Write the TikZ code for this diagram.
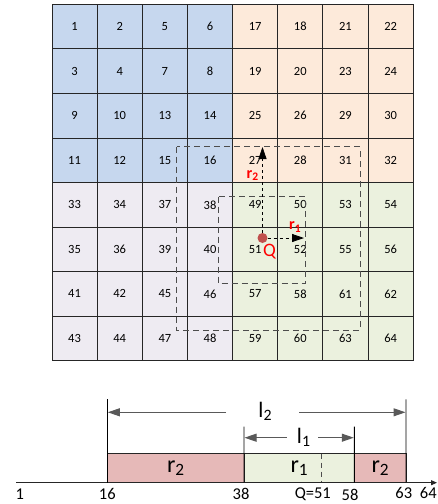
\documentclass[tikz,border=0pt]{standalone}
\usepackage{fontspec}
\setmainfont{Carlito}
\usetikzlibrary{arrows.meta}
\definecolor{qblue}{HTML}{C6D7EE}
\definecolor{qorange}{HTML}{FDEADA}
\definecolor{qlav}{HTML}{EEEBF2}
\definecolor{qgreen}{HTML}{EBF1DE}
\definecolor{barpink}{HTML}{E6B9B8}
\definecolor{bargreen}{HTML}{EBF1DE}
\definecolor{qdot}{HTML}{C0504D}
\definecolor{gridline}{HTML}{262626}
\definecolor{dashgray}{HTML}{4D4D4D}
\definecolor{dimgray}{HTML}{595959}
\newcommand\lowsub[2]{#1\raisebox{-0.3ex}{\scalebox{0.72}{#2}}}
\tikzset{
  cell/.style={draw=gridline, line width=0.9pt, minimum width=45.15pt, minimum height=44.55pt,
    inner sep=0pt, outer sep=0pt, font=\fontsize{12.5}{14}\selectfont},
  searchbox/.style={draw=dashgray, line width=1pt, dash pattern=on 6pt off 4pt},
  qarrow/.style={black, line width=0.8pt, dash pattern=on 3pt off 3pt,
    -{Triangle[length=12pt,width=8pt]}},
  redlbl/.style={text=red, font=\fontsize{16}{17}\selectfont\bfseries, inner sep=0pt},
  bar/.style={draw=gridline, line width=0.9pt, minimum height=29.4pt, inner sep=0pt, outer sep=0pt,
    font=\fontsize{24}{26}\selectfont},
  dimline/.style={dimgray, line width=1pt, -{Triangle[length=12pt,width=8pt]}},
  tickline/.style={black, line width=0.9pt},
  axlbl/.style={inner sep=0pt, font=\fontsize{16.5}{18}\selectfont},
  dimlbl/.style={inner sep=0pt, font=\fontsize{22}{24}\selectfont},
}
\begin{document}
\begin{tikzpicture}[x=1pt,y=-1pt]
\useasboundingbox (0,0) rectangle (438,504);
% grid
\foreach \row [count=\r] in {{1,2,5,6,17,18,21,22},{3,4,7,8,19,20,23,24},{9,10,13,14,25,26,29,30},{11,12,15,16,27,28,31,32},{33,34,37,38,49,50,53,54},{35,36,39,40,51,52,55,56},{41,42,45,46,57,58,61,62},{43,44,47,48,59,60,63,64}} {
  \foreach \n [count=\c] in \row {
    \ifnum\r<5 \ifnum\c<5 \def\cc{qblue}\else\def\cc{qorange}\fi
    \else \ifnum\c<5 \def\cc{qlav}\else\def\cc{qgreen}\fi\fi
    \node[cell, fill=\cc] (cell\n) at ({52+(\c-0.5)*45.15},{4.3+(\r-0.5)*44.55}) {\n};
  }
}
% search windows
\draw[searchbox] (176.7,146.7) rectangle (360,330);
\draw[searchbox] (218.3,196.7) rectangle (305,283.3);
% query point and radii
\node[circle, fill=qdot, minimum size=10pt, inner sep=0pt] (q) at (262.5,238) {};
\coordinate (r2end) at (262.5,147);
\coordinate (r1end) at (304,238);
\draw[qarrow] (q) -- (r2end);
\draw[qarrow] (q) -- (r1end);
\node[redlbl] (r2lbl) at (252.5,175.5) {\lowsub{r}{2}};
\node[redlbl] (r1lbl) at (295,227) {\lowsub{r}{1}};
\node[inner sep=0pt, text=red, font=\fontsize{19}{20}\selectfont] (qlbl) at (269.5,251.5) {Q};
% bottom bars
\node[bar, fill=barpink, minimum width=136.7pt] (b1) at ({(107.3+244)/2},468) {\lowsub{r}{2}};
\node[bar, fill=bargreen, minimum width=110.3pt] (b2) at ({(244+354.3)/2},468) {\lowsub{r}{1}};
\node[bar, fill=barpink, minimum width=51.7pt] (b3) at ({(354.3+406)/2},468) {\lowsub{r}{2}};
\coordinate (qmarkTop) at (321.7,453.5);
\coordinate (qmarkBot) at (321.7,482.5);
\draw[dashgray, line width=0.9pt, dash pattern=on 5pt off 4pt] (qmarkTop) -- (qmarkBot);
% axis
\coordinate (ax0) at (16,482.7);
\coordinate (ax1) at (437,482.7);
\draw[gridline, line width=0.9pt, -{Triangle[length=6pt,width=5pt]}] (ax0) -- (ax1);
% ticks
\coordinate (t16) at (107.3,399.3);
\coordinate (t63) at (406,399.3);
\coordinate (t38) at (244,426.7);
\coordinate (t58) at (354.3,426.7);
\draw[tickline] (t16) -- (b1.south west);
\draw[tickline] (t63) -- (b3.south east);
\draw[tickline] (t38) -- (b1.south east);
\draw[tickline] (t58) -- (b2.south east);
% dimension l2
\node[dimlbl] (l2) at (265,411.5) {\lowsub{l}{2}};
\coordinate (l2a) at (226,412.3);
\coordinate (l2b) at (299,412.3);
\coordinate (l2L) at (107.8,412.3);
\coordinate (l2R) at (405.5,412.3);
\draw[dimline] (l2a) -- (l2L);
\draw[dimline] (l2b) -- (l2R);
% dimension l1
\node[dimlbl] (l1) at (303.5,437.5) {\lowsub{l}{1}};
\coordinate (l1a) at (286.7,437.7);
\coordinate (l1b) at (318,437.7);
\coordinate (l1L) at (244.5,437.7);
\coordinate (l1R) at (353.8,437.7);
\draw[dimline] (l1a) -- (l1L);
\draw[dimline] (l1b) -- (l1R);
% axis labels
\node[axlbl] (n1) at (19.7,494.5) {1};
\node[axlbl] (n16) at (107.3,494) {16};
\node[axlbl] (n38) at (241,494) {38};
\node[axlbl] (n51) at (312.8,494.5) {Q=51};
\node[axlbl] (n58) at (350,494.5) {58};
\node[axlbl] (n63) at (403.8,493) {63};
\node[axlbl] (n64) at (428.3,493) {64};
\end{tikzpicture}
\end{document}
